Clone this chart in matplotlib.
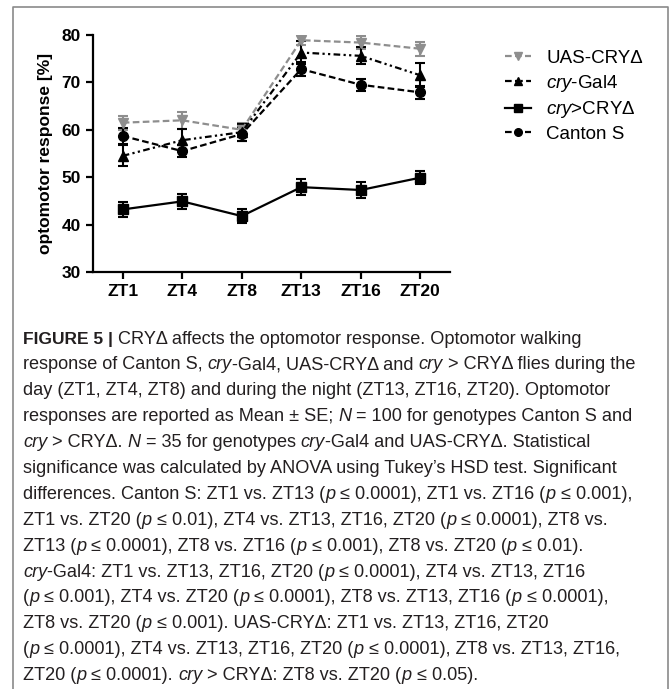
import re
import matplotlib
matplotlib.use('Agg')
import matplotlib.pyplot as plt
from matplotlib.lines import Line2D

plt.rcParams['font.family'] = ['Liberation Sans', 'DejaVu Sans']
plt.rcParams['mathtext.fontset'] = 'custom'
plt.rcParams['mathtext.rm'] = 'Liberation Sans'
plt.rcParams['mathtext.it'] = 'Liberation Sans:italic'

# data
times = ['ZT1', 'ZT4', 'ZT8', 'ZT13', 'ZT16', 'ZT20']
uas_mean = [61.5, 62.0, 60.0, 78.9, 78.4, 77.1]
uas_se = [1.5, 1.8, 1.5, 1.0, 1.3, 1.5]
gal4_mean = [54.5, 57.8, 59.5, 76.3, 75.6, 71.5]
gal4_se = [2.2, 2.3, 1.8, 2.5, 1.8, 2.5]
cryd_mean = [43.2, 44.9, 41.8, 47.9, 47.3, 49.9]
cryd_se = [1.5, 1.6, 1.5, 1.7, 1.6, 1.4]
canton_mean = [58.7, 55.5, 59.1, 72.8, 69.5, 67.9]
canton_se = [1.6, 1.3, 1.4, 1.4, 1.3, 1.3]

caption = [
    "**FIGURE 5 |** CRYΔ affects the optomotor response. Optomotor walking",
    "response of Canton S, *cry*-Gal4, UAS-CRYΔ and *cry* > CRYΔ flies during the",
    "day (ZT1, ZT4, ZT8) and during the night (ZT13, ZT16, ZT20). Optomotor",
    "responses are reported as Mean ± SE; *N* = 100 for genotypes Canton S and",
    "*cry* > CRYΔ. *N* = 35 for genotypes *cry*-Gal4 and UAS-CRYΔ. Statistical",
    "significance was calculated by ANOVA using Tukey’s HSD test. Significant",
    "differences. Canton S: ZT1 vs. ZT13 (*p* ≤ 0.0001), ZT1 vs. ZT16 (*p* ≤ 0.001),",
    "ZT1 vs. ZT20 (*p* ≤ 0.01), ZT4 vs. ZT13, ZT16, ZT20 (*p* ≤ 0.0001), ZT8 vs.",
    "ZT13 (*p* ≤ 0.0001), ZT8 vs. ZT16 (*p* ≤ 0.001), ZT8 vs. ZT20 (*p* ≤ 0.01).",
    "*cry*-Gal4: ZT1 vs. ZT13, ZT16, ZT20 (*p* ≤ 0.0001), ZT4 vs. ZT13, ZT16",
    "(*p* ≤ 0.001), ZT4 vs. ZT20 (*p* ≤ 0.0001), ZT8 vs. ZT13, ZT16 (*p* ≤ 0.0001),",
    "ZT8 vs. ZT20 (*p* ≤ 0.001). UAS-CRYΔ: ZT1 vs. ZT13, ZT16, ZT20",
    "(*p* ≤ 0.0001), ZT4 vs. ZT13, ZT16, ZT20 (*p* ≤ 0.0001), ZT8 vs. ZT13, ZT16,",
    "ZT20 (*p* ≤ 0.0001). *cry* > CRYΔ: ZT8 vs. ZT20 (*p* ≤ 0.05).",
]

W, H = 672, 689
fig = plt.figure(figsize=(W / 100, H / 100), dpi=100)
ax = fig.add_axes([93 / W, 1 - 272 / H, 357 / W, 237 / H])

gray = '#8e8e8e'
x = list(range(len(times)))
series = [
    (uas_mean, uas_se, 'v', gray, (0, (3, 1.5)), 'UAS-CRYΔ'),
    (gal4_mean, gal4_se, '^', 'black', (0, (3, 1.5, 1, 1.5, 1, 1.5)), r'$\mathit{cry}$-Gal4'),
    (cryd_mean, cryd_se, 's', 'black', '-', r'$\mathit{cry}$>CRYΔ'),
    (canton_mean, canton_se, 'o', 'black', (0, (3, 1.5)), 'Canton S'),
]
handles = []
for m, se, mk, c, ls, lab in series:
    ax.errorbar(x, m, yerr=se, marker=mk, color=c, ls=ls, lw=1.6, ms=7,
                capsize=3.5, elinewidth=1.5, capthick=1.5)
    handles.append(Line2D([], [], marker=mk, color=c, ls=ls, lw=1.6, ms=5.5))

ax.set_xlim(-0.5, 5.5)
ax.set_ylim(30, 80)
ax.set_yticks([30, 40, 50, 60, 70, 80])
ax.set_xticks(x)
ax.set_xticklabels(times)
for s in ['top', 'right']:
    ax.spines[s].set_visible(False)
for s in ['left', 'bottom']:
    ax.spines[s].set_linewidth(1.6)
ax.tick_params(width=1.6, length=5, labelsize=12.5, pad=4)
for t in ax.get_xticklabels() + ax.get_yticklabels():
    t.set_fontweight('bold')
ax.set_ylabel('optomotor response [%]', fontsize=12.5, fontweight='bold', labelpad=6)

fig.legend(handles, [h[5] for h in series], loc='upper left',
           bbox_to_anchor=(488 / W, 1 - 33 / H), frameon=False, fontsize=13.5,
           handlelength=1.4, handletextpad=0.8, labelspacing=0.3)

# frame round the figure panel
fig.add_artist(Line2D([13 / W, 13 / W, 668 / W, 668 / W], [0, 1 - 7 / H, 1 - 7 / H, 0],
                      transform=fig.transFigure, color='#8a8a8a', lw=1.2))

# caption, drawn piece by piece so italics can sit inside the text
cap_fam = ['Liberation Sans', 'DejaVu Sans']
cap_size = 13.1

renderer = fig.canvas.get_renderer()

def width(s, **kw):
    a = fig.text(0, 0, '|' + s + '|', **kw)
    b = fig.text(0, 0, '||', **kw)
    w = a.get_window_extent(renderer).width - b.get_window_extent(renderer).width
    a.remove()
    b.remove()
    return w

y0 = 339
for i, line in enumerate(caption):
    xp = 23
    yp = 1 - (y0 + i * 25.9) / H
    for part in re.split(r'(\*\*.*?\*\*|\*.*?\*)', line):
        if not part:
            continue
        kw = dict(fontsize=cap_size, family=cap_fam)
        if part.startswith('**'):
            part = part[2:-2]
            kw = dict(fontsize=12.5, family=cap_fam, fontweight='bold')
        elif part.startswith('*'):
            part = part[1:-1]
            kw['fontstyle'] = 'italic'
        fig.text(xp / W, yp, part, va='center', ha='left', color='#231f20', **kw)
        xp += width(part, **kw)

fig.savefig('out.png', dpi=100)
